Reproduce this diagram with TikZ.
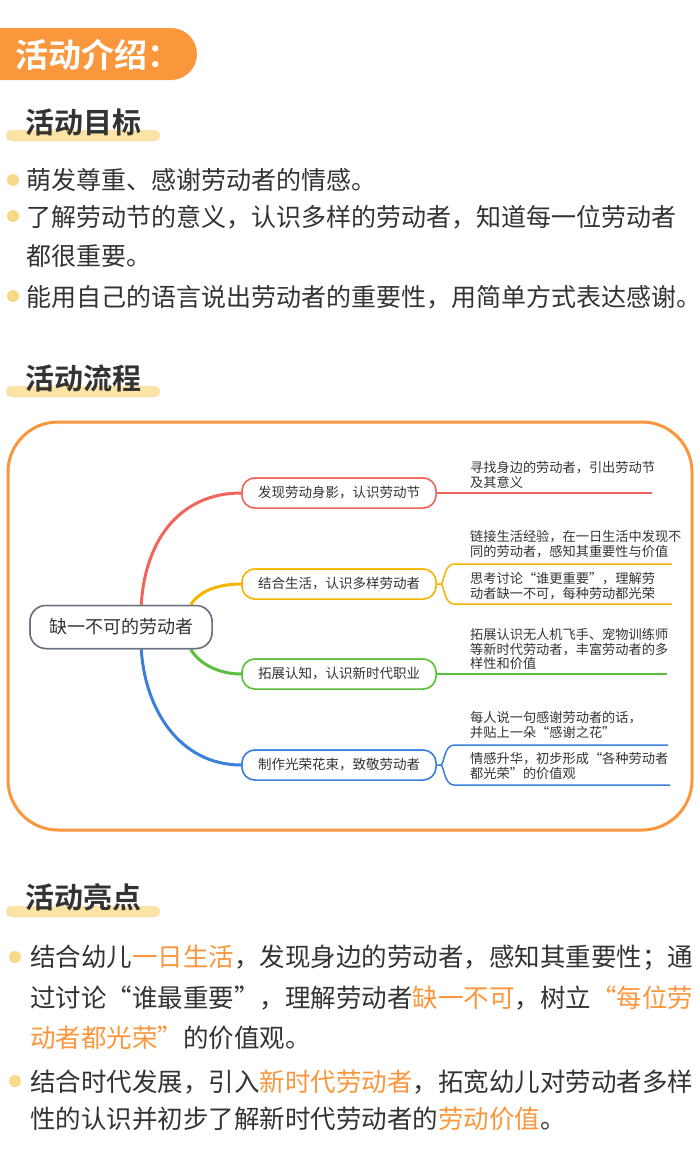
\documentclass[tikz,border=0pt]{standalone}
\usepackage{fontspec}
\setmainfont{Noto Sans CJK SC}
\newfontfamily\cjkb{Noto Sans CJK SC Bold}
\definecolor{org}{HTML}{FA963C}
\definecolor{hl}{HTML}{FBE3A6}
\definecolor{dot}{HTML}{F8D98A}
\definecolor{txt}{HTML}{333333}
\definecolor{cR}{HTML}{F0645A}
\definecolor{cO}{HTML}{F5B400}
\definecolor{cG}{HTML}{5CBF3C}
\definecolor{cB}{HTML}{3C7FD8}
\definecolor{cN}{HTML}{6A7080}
\begin{document}
\begin{tikzpicture}[x=1pt,y=-1pt,
  body/.style={anchor=west,inner sep=0,text=txt,font=\fontsize{25}{28}\selectfont},
  big/.style={anchor=west,inner sep=0,text=txt,font=\fontsize{25.5}{28}\selectfont},
  ttl/.style={anchor=west,inner sep=0,text=txt,font=\cjkb\fontsize{29}{32}\selectfont},
  bdot/.style={fill=dot,circle,minimum size=12pt,inner sep=0},
  br/.style={draw,rounded corners=13pt,line width=1.5pt,minimum width=194pt,minimum height=30pt,inner sep=0,font=\fontsize{13.5}{15}\selectfont,text=txt,fill=white},
  sm/.style={anchor=west,inner sep=0,align=left,text=txt,font=\fontsize{13.2}{14.5}\selectfont},
  rootst/.style={draw=cN,line width=1.5pt,rounded corners=16pt,minimum width=182pt,minimum height=43pt,fill=white,text=txt,font=\fontsize{18}{20}\selectfont},
  hi/.style={fill=hl,rounded corners=5pt}]
\useasboundingbox (0,0) rectangle (700,1159);
% header
\fill[org,rounded corners=26pt] (-30,28) rectangle (197,80);
\node[anchor=west,inner sep=0,text=white,font=\cjkb\fontsize{33}{36}\selectfont] (h) at (15,55) {活动介绍：};
% section 1
\fill[hi] (6,130) rectangle (160,141);
\node[ttl] (t1) at (25,122) {活动目标};
\node[bdot] (d1) at (13,180) {}; \node[body] (b1) at (26,180) {萌发尊重、感谢劳动者的情感。};
\node[bdot] (d2) at (13,216) {}; \node[body] (b2) at (26,217) {了解劳动节的意义，认识多样的劳动者，知道每一位劳动者};
\node[body] (b2b) at (26,256) {都很重要。};
\node[bdot] (d3) at (13,296) {}; \node[body] (b3) at (26,297) {能用自己的语言说出劳动者的重要性，用简单方式表达感谢。};
% section 2
\fill[hi] (6,386) rectangle (160,397);
\node[ttl] (t2) at (25,378) {活动流程};
\draw[org,line width=3pt,rounded corners=50pt] (8,422) rectangle (692,830);
\node[rootst] (root) at (121,627) {缺一不可的劳动者};
\node[br,draw=cR] (n1) at (339,493) {发现劳动身影，认识劳动节};
\node[br,draw=cO] (n2) at (339,584) {结合生活，认识多样劳动者};
\node[br,draw=cG] (n3) at (339,674) {拓展认知，认识新时代职业};
\node[br,draw=cB] (n4) at (339,765) {制作光荣花束，致敬劳动者};
\draw[cR,line width=3pt] (root.north west)++(112,0) coordinate (r1) (r1) .. controls (145,540) and (180,493) .. (n1.west);
\draw[cO,line width=3pt] (root.north east)++(-22,0) coordinate (r2) (r2) .. controls (200,590) and (220,584) .. (n2.west);
\draw[cG,line width=3pt] (root.south east)++(-22,0) coordinate (r3) (r3) .. controls (200,665) and (220,674) .. (n3.west);
\draw[cB,line width=3pt] (root.south west)++(112,0) coordinate (r4) (r4) .. controls (145,710) and (180,765) .. (n4.west);
\node[br,draw=cR] at (n1) {发现劳动身影，认识劳动节};
\node[br,draw=cO] at (n2) {结合生活，认识多样劳动者};
\node[br,draw=cG] at (n3) {拓展认知，认识新时代职业};
\node[br,draw=cB] at (n4) {制作光荣花束，致敬劳动者};
\node[rootst] at (root) {缺一不可的劳动者};
% leaves
\coordinate (e1) at (652,493);
\draw[cR,line width=1.5pt] (n1.east) -- (e1);
\node[sm] (l1) at (470,475) {寻找身边的劳动者，引出劳动节\\及其意义};
\coordinate (e2a) at (672,564); \coordinate (e2b) at (672,604);
\draw[cO,line width=1.5pt] (n2.east) -- ++(4,0) coordinate (k2) (e2a) -- (454,564) .. controls (444,564) and (444,584) .. (k2) .. controls (444,584) and (444,604) .. (454,604) -- (e2b);
\node[sm] (l2a) at (470,544) {链接生活经验，在一日生活中发现不\\同的劳动者，感知其重要性与价值};
\node[sm] (l2b) at (470,586) {思考讨论“谁更重要”，理解劳\\动者缺一不可，每种劳动都光荣};
\coordinate (e3) at (667,674);
\draw[cG,line width=1.5pt] (n3.east) -- (e3);
\node[sm] (l3) at (470,649) {拓展认识无人机飞手、宠物训练师\\等新时代劳动者，丰富劳动者的多\\样性和价值};
\coordinate (e4a) at (668,745); \coordinate (e4b) at (670,785);
\draw[cB,line width=1.5pt] (n4.east) -- ++(4,0) coordinate (k4) (e4a) -- (454,745) .. controls (444,745) and (444,765) .. (k4) .. controls (444,765) and (444,785) .. (454,785) -- (e4b);
\node[sm] (l4a) at (470,725) {每人说一句感谢劳动者的话，\\并贴上一朵“感谢之花”};
\node[sm] (l4b) at (470,766) {情感升华，初步形成“各种劳动者\\都光荣”的价值观};
% section 3
\fill[hi] (6,906) rectangle (160,917);
\node[ttl] (t3) at (25,897) {活动亮点};
\node[bdot] (d4) at (15,957) {}; \node[big] (c1) at (30,958) {结合幼儿\textcolor{org}{一日生活}，发现身边的劳动者，感知其重要性；通};
\node[big] (c2) at (30,998) {过讨论“谁最重要”，理解劳动者\textcolor{org}{缺一不可}，树立\textcolor{org}{“每位劳}};
\node[big] (c3) at (30,1038) {\textcolor{org}{动者都光荣”}的价值观。};
\node[bdot] (d5) at (15,1081) {}; \node[big] (c4) at (30,1082) {结合时代发展，引入\textcolor{org}{新时代劳动者}，拓宽幼儿对劳动者多样};
\node[big] (c5) at (30,1119) {性的认识并初步了解新时代劳动者的\textcolor{org}{劳动价值}。};
\end{tikzpicture}
\end{document}
